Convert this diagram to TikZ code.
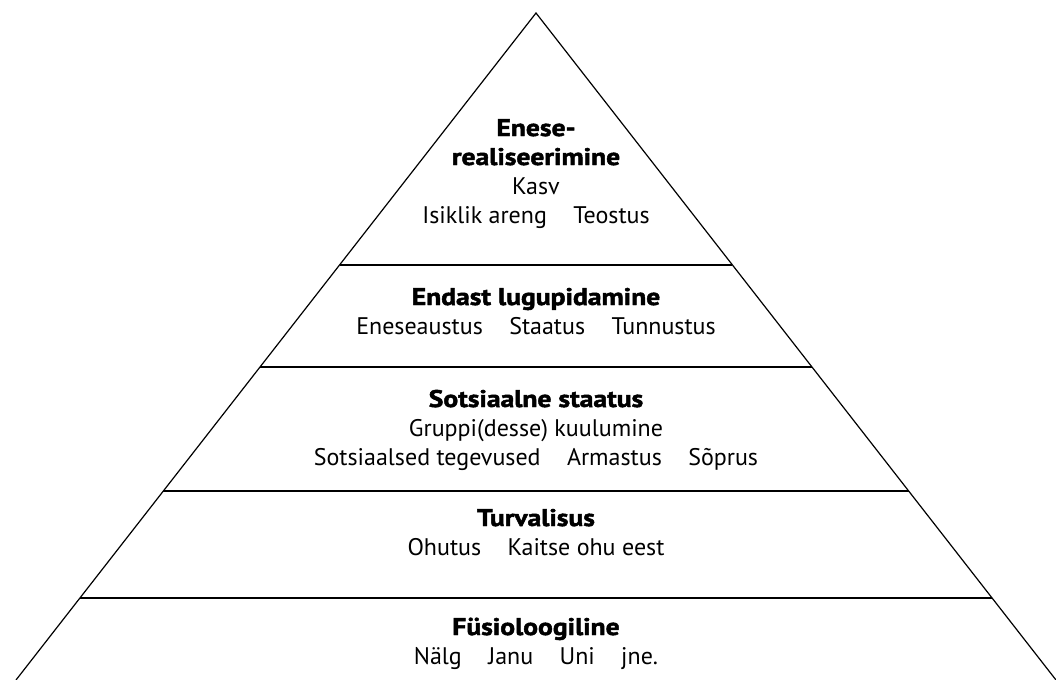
\documentclass[tikz,border=0pt]{standalone}
\usepackage{fontspec}
\setmainfont{PT Sans}[BoldFeatures={FakeStretch=1.15,FakeBold=2}]
\newcommand{\gap}{\hspace{1.1em}}
\begin{document}
\begin{tikzpicture}[x=0.5pt, y=-0.5pt, line width=0.6pt, level/.style={align=center, anchor=base, inner sep=0pt, font=\fontsize{12}{14.5}\selectfont}]
\useasboundingbox (0,0) rectangle (1056,680);
\clip (0,0) rectangle (1056,680);
\coordinate (top) at (536,13);
\coordinate (bl) at (16,680);
\coordinate (br) at (1056,680);
\draw (bl) -- (top) -- (br);
\foreach \y/\n in {265/a, 367/b, 491/c, 598/d} {
  \coordinate (l\n) at ({536-0.7796*(\y-13)},\y);
  \coordinate (r\n) at ({536+0.7796*(\y-13)},\y);
  \draw (l\n) -- (r\n);
}
\node[level] (self) at (536,223) {\textbf{Enese-}\\\textbf{realiseerimine}\\Kasv\\Isiklik areng\gap Teostus};
\node[level] (esteem) at (536,334) {\textbf{Endast lugupidamine}\\Eneseaustus\gap Staatus\gap Tunnustus};
\node[level] (social) at (536,465) {\textbf{Sotsiaalne staatus}\\Gruppi(desse) kuulumine\\Sotsiaalsed tegevused\gap Armastus\gap Sõprus};
\node[level] (safety) at (536,555) {\textbf{Turvalisus}\\Ohutus\gap Kaitse ohu eest};
\node[level] (body) at (536,664) {\textbf{Füsioloogiline}\\Nälg\gap Janu\gap Uni\gap jne.};
\end{tikzpicture}
\end{document}
